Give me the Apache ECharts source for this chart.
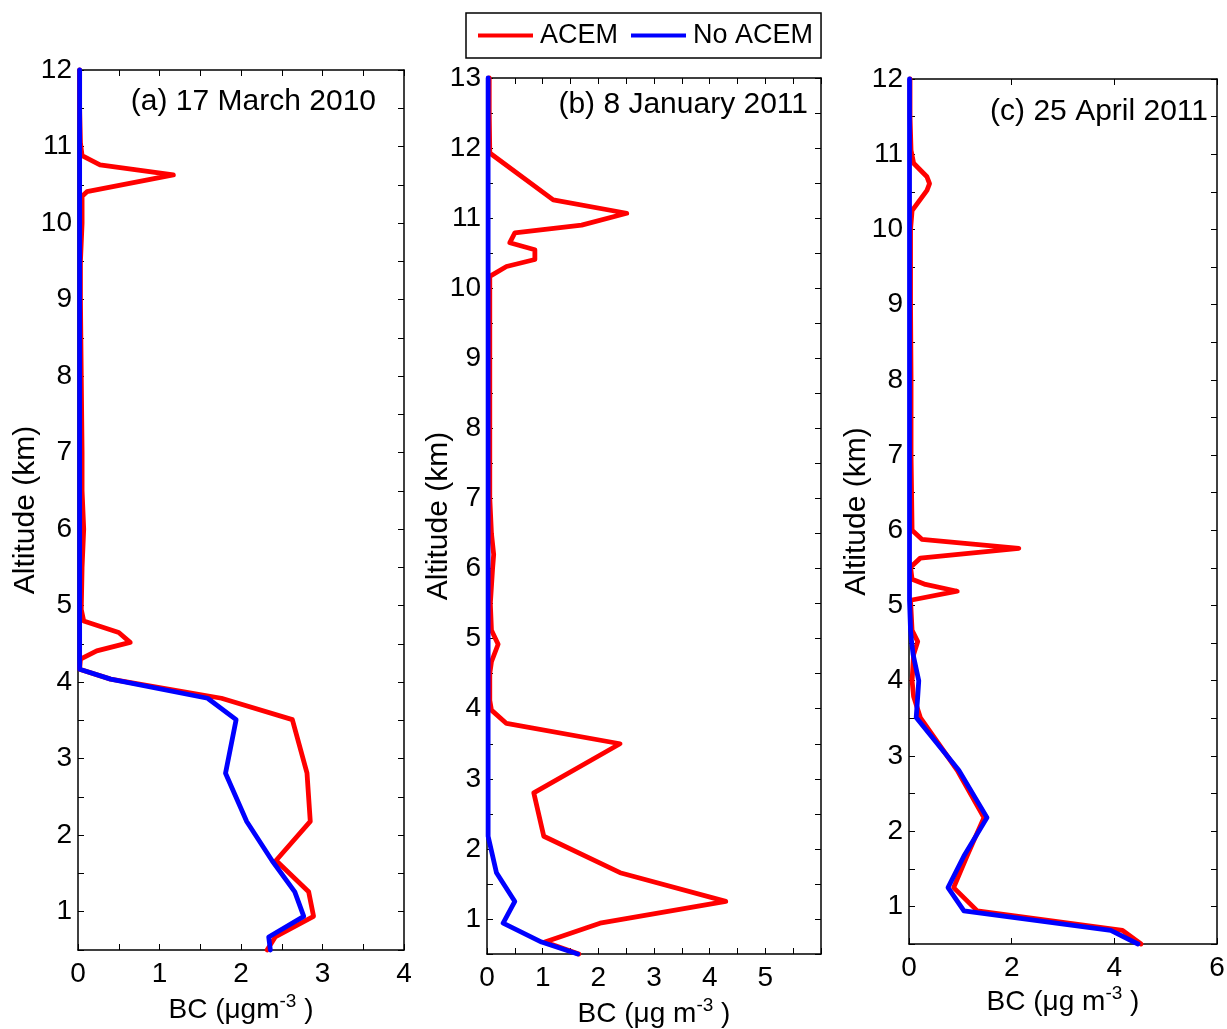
<!DOCTYPE html>
<html>
<head>
<meta charset="utf-8">
<script src="https://cdn.jsdelivr.net/npm/echarts@6/dist/echarts.min.js"></script>
<style>
  html, body { margin: 0; padding: 0; background: #fff; }
  #chart { width: 1227px; height: 1029px; }
</style>
</head>
<body>
<div id="chart"></div>
<script>
// Vertical BC profiles (altitude in km, BC in µg m^-3) for three flight days

// (a) 17 March 2010
const altA = [0.5, 0.67, 0.94, 1.26, 1.67, 2.18, 2.81, 3.51, 3.79, 4.04, 4.17, 4.30, 4.41, 4.52, 4.65, 4.80, 4.95,
              5.5, 6.0, 6.5, 7.0, 8.0, 9.0, 9.5, 10.0, 10.35, 10.41, 10.63, 10.76, 10.88, 11.05, 11.5, 12.0];
const acemA = [2.32, 2.42, 2.89, 2.83, 2.43, 2.85, 2.81, 2.63, 1.76, 0.40, 0.02, 0.03, 0.23, 0.64, 0.50, 0.07, 0.04,
               0.05, 0.07, 0.05, 0.05, 0.04, 0.03, 0.03, 0.05, 0.05, 0.11, 1.17, 0.27, 0.05, 0.03, 0.02, 0.02];
const noAcemA = [2.36, 2.34, 2.77, 2.66, 2.38, 2.07, 1.81, 1.94, 1.59, 0.40, 0.02, 0.02, 0.02, 0.02, 0.02, 0.02, 0.02,
                 0.02, 0.02, 0.02, 0.02, 0.02, 0.02, 0.02, 0.02, 0.02, 0.02, 0.02, 0.02, 0.02, 0.02, 0.02, 0.02];

// (b) 8 January 2011
const altB = [0.5, 0.67, 0.94, 1.25, 1.66, 2.18, 2.80, 3.50, 3.79, 3.98, 4.12, 4.50, 4.67, 4.92, 5.12, 5.5, 6.0, 6.2,
              6.5, 7.0, 8.0, 9.0, 10.0, 10.17, 10.31, 10.41, 10.55, 10.65, 10.79, 10.90, 11.07, 11.26, 11.93, 12.5, 13.0];
const acemB = [1.65, 1.04, 2.03, 4.29, 2.39, 1.02, 0.84, 2.39, 0.35, 0.08, 0.05, 0.05, 0.08, 0.20, 0.08, 0.06, 0.10, 0.12,
               0.08, 0.05, 0.05, 0.05, 0.05, 0.05, 0.35, 0.86, 0.86, 0.41, 0.50, 1.70, 2.51, 1.19, 0.05, 0.04, 0.04];
const noAcemB = [1.63, 0.98, 0.29, 0.50, 0.17, 0.02, 0.02, 0.02, 0.02, 0.02, 0.02, 0.02, 0.02, 0.02, 0.02, 0.02, 0.02, 0.02,
                 0.02, 0.02, 0.02, 0.02, 0.02, 0.02, 0.02, 0.02, 0.02, 0.02, 0.02, 0.02, 0.02, 0.02, 0.02, 0.02, 0.02];

// (c) 25 April 2011
const altC = [0.5, 0.68, 0.94, 1.25, 1.67, 2.18, 2.81, 3.51, 3.79, 4.00, 4.35, 4.52, 4.67, 5.07, 5.19, 5.28, 5.35,
              5.51, 5.63, 5.76, 5.88, 6.0, 7.0, 8.0, 9.0, 10.0, 10.25, 10.52, 10.61, 10.70, 10.88, 11.05, 11.5, 12.0];
const acemC = [4.52, 4.16, 1.33, 0.87, 1.13, 1.46, 0.94, 0.22, 0.09, 0.06, 0.09, 0.17, 0.06, 0.03, 0.94, 0.32, 0.06,
               0.03, 0.22, 2.14, 0.25, 0.06, 0.04, 0.04, 0.03, 0.03, 0.06, 0.35, 0.40, 0.35, 0.09, 0.04, 0.02, 0.02];
const noAcemC = [4.46, 3.93, 1.07, 0.76, 1.07, 1.52, 0.97, 0.14, 0.17, 0.19, 0.08, 0.05, 0.03, 0.01, 0.01, 0.01, 0.01,
                 0.01, 0.01, 0.01, 0.01, 0.01, 0.01, 0.01, 0.01, 0.01, 0.01, 0.01, 0.01, 0.01, 0.01, 0.01, 0.01, 0.01];

const panelTitles = ['(a) 17 March 2010', '(b) 8 January 2011', '(c) 25 April 2011'];
const seriesNames = ['ACEM', 'No ACEM'];
const yName = 'Altitude (km)';
const xNames = ['BC (μgm{sup|-3} )', 'BC (μg m{sup|-3} )', 'BC (μg m{sup|-3} )'];

const FONT = '"Liberation Sans", Arial, Helvetica, sans-serif';
const RED = '#ff0000';
const BLUE = '#0000ff';
const INK = '#000000';

// Panel frames (pixels) and axis ranges
const panels = [
  { grid: { left: 78, top: 70, width: 326, height: 880 },  x: [0, 4, 0.5], y: [0.5, 12, 0.5], xMaxLabel: 4, nameGapY: 37, nameGapX: 42 },
  { grid: { left: 487, top: 78, width: 334, height: 876 }, x: [0, 6, 0.5], y: [0.5, 13, 0.5], xMaxLabel: 5, nameGapY: 33, nameGapX: 42 },
  { grid: { left: 909, top: 79, width: 308, height: 865 }, x: [0, 6, 2],   y: [0.5, 12, 0.5], xMaxLabel: 6, nameGapY: 37, nameGapX: 40 }
];
const titlePos = [[376, 102], [808, 105], [1208, 112]];

const isInt = v => Math.abs(v - Math.round(v)) < 1e-6;

const grids = [], xAxes = [], yAxes = [], series = [];
const lineCommon = { show: true, onZero: false, lineStyle: { color: INK, width: 1.5 } };
const tickCommon = { show: true, inside: true, length: 6, lineStyle: { color: INK, width: 1 } };

panels.forEach((p, i) => {
  // fixed frame: labels and names sit outside without shrinking the plot area
  grids.push(Object.assign({ containLabel: false, outerBoundsMode: 'none' }, p.grid));
  const xBase = { type: 'value', gridIndex: i, min: p.x[0], max: p.x[1], interval: p.x[2],
                  axisLine: lineCommon, axisTick: tickCommon, splitLine: { show: false } };
  const yBase = { type: 'value', gridIndex: i, min: p.y[0], max: p.y[1], interval: p.y[2],
                  axisLine: lineCommon, axisTick: tickCommon, splitLine: { show: false } };
  xAxes.push(Object.assign({}, xBase, {
    position: 'bottom',
    name: xNames[i], nameLocation: 'middle', nameGap: p.nameGapX, nameMoveOverlap: false,
    nameTextStyle: { color: INK, fontFamily: FONT, fontSize: 28, lineHeight: 36,
      rich: { sup: { fontFamily: FONT, fontSize: 19, lineHeight: 19, verticalAlign: 'top', color: INK } } },
    axisLabel: { show: true, margin: 10, color: INK, fontFamily: FONT, fontSize: 28,
      formatter: v => (isInt(v) && v <= p.xMaxLabel + 1e-6) ? String(Math.round(v)) : '' }
  }));
  xAxes.push(Object.assign({}, xBase, { position: 'top', axisLabel: { show: false } }));
  yAxes.push(Object.assign({}, yBase, {
    position: 'left',
    name: yName, nameLocation: 'middle', nameGap: p.nameGapY, nameMoveOverlap: false,
    nameTextStyle: { color: INK, fontFamily: FONT, fontSize: 30 },
    axisLabel: { show: true, margin: 6, color: INK, fontFamily: FONT, fontSize: 28,
      formatter: v => isInt(v) ? String(Math.round(v)) : '' }
  }));
  yAxes.push(Object.assign({}, yBase, { position: 'right', axisLabel: { show: false } }));
});

const profiles = [
  [altA, acemA, noAcemA],
  [altB, acemB, noAcemB],
  [altC, acemC, noAcemC]
];

profiles.forEach(([alt, acem, noAcem], i) => {
  [[acem, RED, seriesNames[0]], [noAcem, BLUE, seriesNames[1]]].forEach(([vals, color, name], k) => {
    series.push({
      type: 'line', name: name,
      xAxisIndex: i * 2, yAxisIndex: i * 2,
      data: vals.map((v, j) => [v, alt[j]]),
      showSymbol: false, symbol: 'none', clip: false,
      lineStyle: { color: color, width: 4.8, join: 'round', cap: 'round' },
      itemStyle: { color: color },
      z: 3 + k
    });
  });
});

const graphics = panelTitles.map((t, i) => ({
  type: 'text', x: titlePos[i][0], y: titlePos[i][1], z: 10,
  style: { text: t, fill: INK, font: '30px ' + FONT, align: 'right', verticalAlign: 'middle' }
}));

const chart = echarts.init(document.getElementById('chart'), null, { renderer: 'canvas' });
chart.setOption({
  animation: false,
  backgroundColor: '#ffffff',
  legend: {
    data: seriesNames,
    left: 466, top: 13,
    padding: [9, 8, 9, 12],
    itemWidth: 55, itemHeight: 4, itemGap: 13,
    icon: 'rect',
    borderColor: INK, borderWidth: 1.5,
    textStyle: { color: INK, fontFamily: FONT, fontSize: 27, padding: [0, 0, 0, 2] }
  },
  grid: grids,
  xAxis: xAxes,
  yAxis: yAxes,
  series: series,
  graphic: graphics
});
</script>
</body>
</html>
